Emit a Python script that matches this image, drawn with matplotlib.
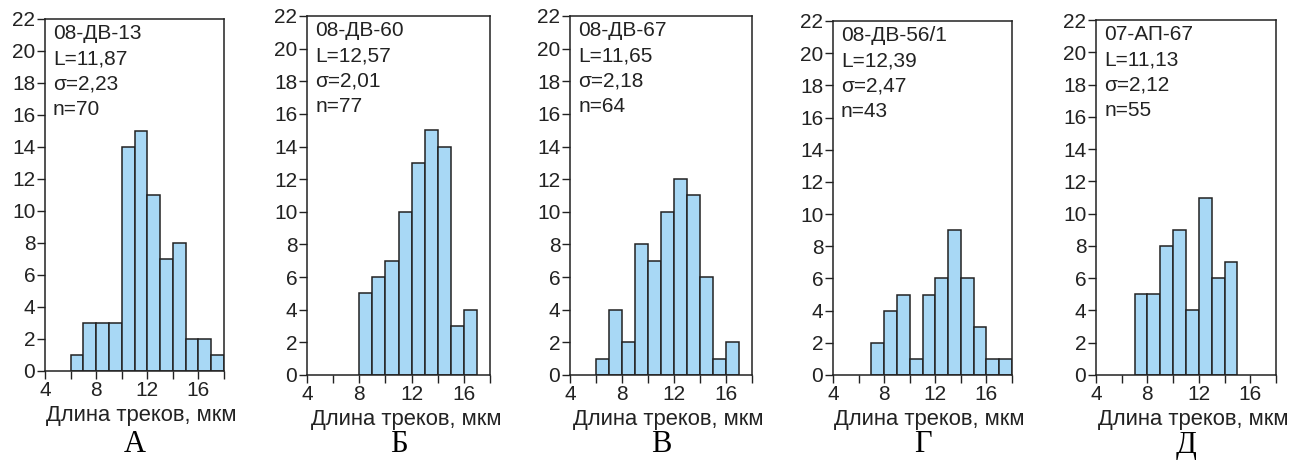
import matplotlib
matplotlib.use('Agg')
import matplotlib.pyplot as plt
import numpy as np

plt.rcParams['font.family'] = ['Liberation Sans', 'DejaVu Sans']

# track length histograms, 1 um bins
samples = ['08-ДВ-13', '08-ДВ-60', '08-ДВ-67', '08-ДВ-56/1', '07-АП-67']
mean_len = ['11,87', '12,57', '11,65', '12,39', '11,13']
sigma = ['2,23', '2,01', '2,18', '2,47', '2,12']
n_tracks = [70, 77, 64, 43, 55]
bin_start = [6, 8, 6, 7, 7]
counts_a = [1, 3, 3, 3, 14, 15, 11, 7, 8, 2, 2, 1]
counts_b = [5, 6, 7, 10, 13, 15, 14, 3, 4]
counts_v = [1, 4, 2, 8, 7, 10, 12, 11, 6, 1, 2]
counts_g = [2, 4, 5, 1, 5, 6, 9, 6, 3, 1, 1]
counts_d = [5, 5, 8, 9, 4, 11, 6, 7]
panel_letters = ['А', 'Б', 'В', 'Г', 'Д']

all_counts = [counts_a, counts_b, counts_v, counts_g, counts_d]

W, H = 1295, 462
# left, right, top, bottom in pixels
boxes = [(45, 224, 19, 371), (307, 490, 16, 375), (570, 752, 16, 375),
         (833, 1012, 21, 375), (1096, 1276, 20, 375)]

fig = plt.figure(figsize=(W / 100, H / 100), dpi=100)
edge = '#222222'

for i, counts in enumerate(all_counts):
    l, r, t, b = boxes[i]
    ax = fig.add_axes([l / W, 1 - b / H, (r - l) / W, (b - t) / H])
    x = np.arange(bin_start[i], bin_start[i] + len(counts))
    ax.bar(x, counts, width=1, align='edge', color='#a8d8f5',
           edgecolor=edge, linewidth=1.1, zorder=2)
    ax.set_xlim(4, 18)
    ax.set_ylim(0, 22)
    ax.set_xticks([4, 8, 12, 16])
    ax.set_xticks([6, 10, 14, 18], minor=True)
    ax.set_yticks(range(0, 23, 2))
    ax.tick_params(axis='both', which='both', direction='out', length=6,
                   width=1, color=edge, labelsize=15, labelcolor='#222222', pad=1)
    for s in ax.spines.values():
        s.set_color(edge)
        s.set_linewidth(1.1)
    txt = '%s\nL=%s\nσ=%s\nn=%d' % (samples[i], mean_len[i], sigma[i], n_tracks[i])
    ax.text(0.045, 0.985, txt, transform=ax.transAxes, ha='left', va='top',
            fontsize=15, color='#222222', linespacing=1.42)
    ax.set_xlabel('Длина треков, мкм', fontsize=15.8, color='#222222', labelpad=4)
    ax.xaxis.label.set_x(0.54)
    fig.text((l + r) / 2 / W, 1 - 445 / H, panel_letters[i], ha='center', va='center',
             fontsize=22, family='Liberation Serif', color='black')

plt.savefig('out.png', dpi=100)
